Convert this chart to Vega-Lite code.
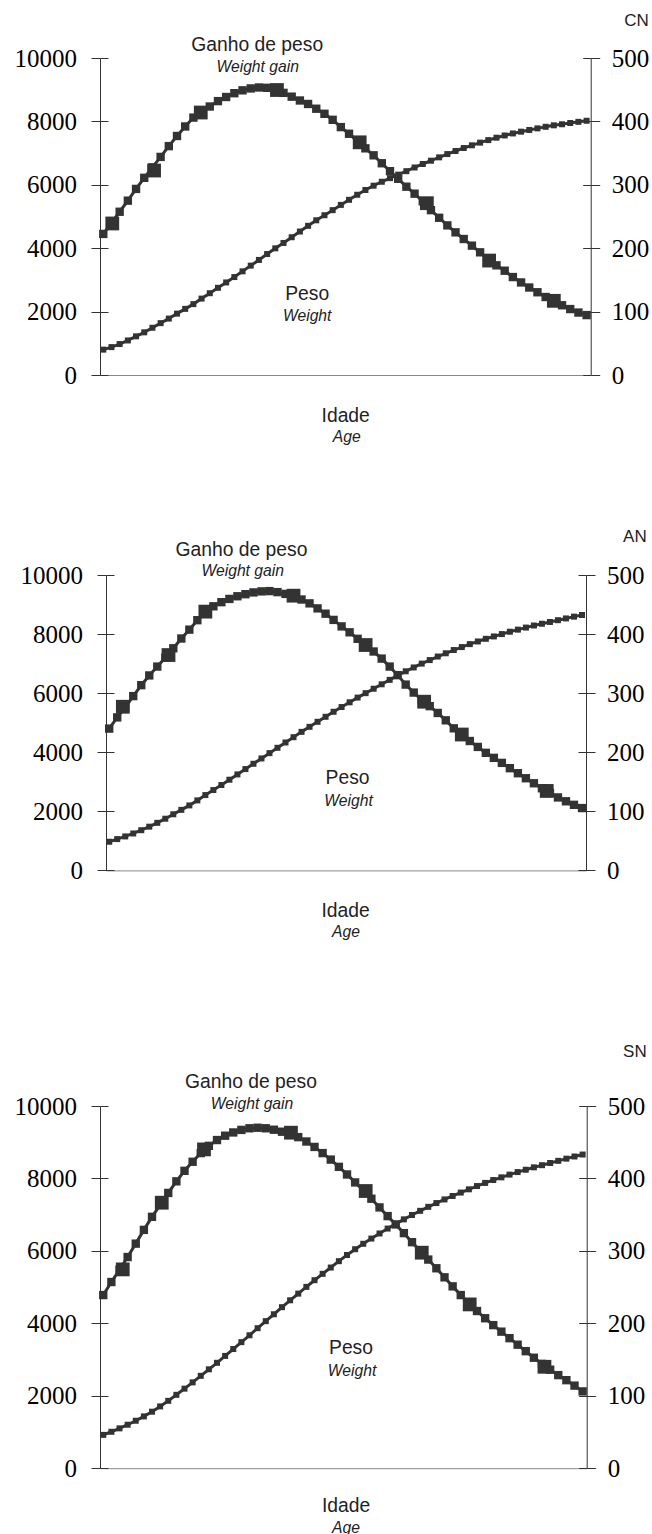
{
 "$schema": "https://vega.github.io/schema/vega-lite/v6.json",
 "padding": 0,
 "autosize": {"type": "pad"},
 "spacing": 0,
 "bounds": "full",
 "datasets": {
  "cn": [{"k":0,"g":4450,"w":40},{"k":1,"g":4800,"w":44},{"k":2,"g":5150,"w":48.8},{"k":3,"g":5500,"w":54.5},{"k":4,"g":5870,"w":61},{"k":5,"g":6220,"w":67.3},{"k":6,"g":6550,"w":74.5},{"k":7,"g":6880,"w":81.8},{"k":8,"g":7220,"w":89},{"k":9,"g":7540,"w":96.8},{"k":10,"g":7840,"w":104.3},{"k":11,"g":8120,"w":111.8},{"k":12,"g":8310,"w":120.5},{"k":13,"g":8470,"w":129},{"k":14,"g":8640,"w":137.5},{"k":15,"g":8770,"w":146},{"k":16,"g":8890,"w":154.5},{"k":17,"g":8980,"w":163.5},{"k":18,"g":9040,"w":172.5},{"k":19,"g":9070,"w":181.5},{"k":20,"g":9060,"w":190.8},{"k":21,"g":9000,"w":199.8},{"k":22,"g":8900,"w":208.3},{"k":23,"g":8780,"w":217.3},{"k":24,"g":8660,"w":226.3},{"k":25,"g":8550,"w":235.3},{"k":26,"g":8400,"w":244},{"k":27,"g":8240,"w":252},{"k":28,"g":8050,"w":260},{"k":29,"g":7820,"w":268.3},{"k":30,"g":7610,"w":276.3},{"k":31,"g":7380,"w":284.3},{"k":32,"g":7150,"w":291.8},{"k":33,"g":6930,"w":298.6},{"k":34,"g":6680,"w":304.8},{"k":35,"g":6430,"w":310.5},{"k":36,"g":6190,"w":316},{"k":37,"g":5940,"w":321.5},{"k":38,"g":5720,"w":327.3},{"k":39,"g":5480,"w":332.8},{"k":40,"g":5200,"w":338},{"k":41,"g":4960,"w":343.3},{"k":42,"g":4720,"w":348.5},{"k":43,"g":4500,"w":353.3},{"k":44,"g":4290,"w":358},{"k":45,"g":4080,"w":362.3},{"k":46,"g":3870,"w":366.5},{"k":47,"g":3650,"w":370.5},{"k":48,"g":3460,"w":374.3},{"k":49,"g":3290,"w":377.8},{"k":50,"g":3090,"w":381},{"k":51,"g":2920,"w":383.8},{"k":52,"g":2760,"w":386.5},{"k":53,"g":2610,"w":389},{"k":54,"g":2460,"w":391.5},{"k":55,"g":2330,"w":393.8},{"k":56,"g":2200,"w":395.5},{"k":57,"g":2080,"w":397.5},{"k":58,"g":1970,"w":399.3},{"k":59,"g":1890,"w":401}],
  "cn_big": [{"k":1.1,"g":4780},{"k":6.2,"g":6450},{"k":11.9,"g":8280},{"k":21.2,"g":8990},{"k":31.3,"g":7340},{"k":39.5,"g":5420},{"k":47.1,"g":3610},{"k":55,"g":2340}],
  "cn_txt": [{"k":66.58,"v":11019,"t":"CN","s":"t"},{"k":18.79,"v":10230,"t":"Ganho de peso","s":"n"},{"k":18.85,"v":9568,"t":"Weight gain","s":"i"},{"k":24.89,"v":2366,"t":"Peso","s":"n"},{"k":24.89,"v":1691,"t":"Weight","s":"i"},{"k":29.59,"v":-1495,"t":"Idade","s":"n"},{"k":29.71,"v":-2104,"t":"Age","s":"i"}],
  "cn_band": [{"k":-12.40,"v":11807.6,"v2":-3334.4}],
  "an": [{"k":0,"g":4800,"w":48.5},{"k":1,"g":5180,"w":53},{"k":2,"g":5520,"w":57.5},{"k":3,"g":5900,"w":62.5},{"k":4,"g":6270,"w":68},{"k":5,"g":6600,"w":74},{"k":6,"g":6900,"w":80.5},{"k":7,"g":7200,"w":87.5},{"k":8,"g":7520,"w":95},{"k":9,"g":7850,"w":102.5},{"k":10,"g":8150,"w":110},{"k":11,"g":8470,"w":118.5},{"k":12,"g":8750,"w":127.5},{"k":13,"g":8940,"w":136},{"k":14,"g":9080,"w":144.5},{"k":15,"g":9190,"w":153.5},{"k":16,"g":9280,"w":162.5},{"k":17,"g":9350,"w":171.5},{"k":18,"g":9410,"w":180.5},{"k":19,"g":9445,"w":189.5},{"k":20,"g":9455,"w":198.5},{"k":21,"g":9420,"w":207.5},{"k":22,"g":9360,"w":216.5},{"k":23,"g":9280,"w":225.5},{"k":24,"g":9170,"w":234.5},{"k":25,"g":9040,"w":243},{"k":26,"g":8870,"w":251.5},{"k":27,"g":8690,"w":260},{"k":28,"g":8480,"w":268.5},{"k":29,"g":8260,"w":276.5},{"k":30,"g":8060,"w":284.5},{"k":31,"g":7840,"w":292.5},{"k":32,"g":7630,"w":300},{"k":33,"g":7410,"w":307.5},{"k":34,"g":7170,"w":315},{"k":35,"g":6900,"w":322.5},{"k":36,"g":6610,"w":330},{"k":37,"g":6290,"w":337},{"k":38,"g":6020,"w":343.5},{"k":39,"g":5780,"w":350},{"k":40,"g":5560,"w":356},{"k":41,"g":5330,"w":362},{"k":42,"g":5080,"w":367.5},{"k":43,"g":4810,"w":373},{"k":44,"g":4580,"w":378},{"k":45,"g":4380,"w":383},{"k":46,"g":4180,"w":387.5},{"k":47,"g":3980,"w":392},{"k":48,"g":3810,"w":396},{"k":49,"g":3640,"w":400},{"k":50,"g":3460,"w":404},{"k":51,"g":3290,"w":407.5},{"k":52,"g":3120,"w":411},{"k":53,"g":2950,"w":414.5},{"k":54,"g":2780,"w":417.5},{"k":55,"g":2620,"w":420.5},{"k":56,"g":2470,"w":423.5},{"k":57,"g":2340,"w":426.5},{"k":58,"g":2220,"w":429.5},{"k":59,"g":2110,"w":432.3}],
  "an_big": [{"k":1.7,"g":5540},{"k":7.4,"g":7290},{"k":12,"g":8760},{"k":23,"g":9300},{"k":32,"g":7630},{"k":39.3,"g":5711},{"k":44,"g":4600},{"k":54.6,"g":2690}],
  "an_txt": [{"k":67.08,"v":11104,"t":"AN","s":"t"},{"k":16.51,"v":10643,"t":"Ganho de peso","s":"n"},{"k":16.66,"v":9966,"t":"Weight gain","s":"i"},{"k":29.74,"v":2911,"t":"Peso","s":"n"},{"k":29.86,"v":2190,"t":"Weight","s":"i"},{"k":29.49,"v":-1567,"t":"Idade","s":"n"},{"k":29.55,"v":-2244,"t":"Age","s":"i"}],
  "an_band": [{"k":-13.50,"v":13158.4,"v2":-4106.3}],
  "sn": [{"k":0,"g":4780,"w":46},{"k":1,"g":5140,"w":50.3},{"k":2,"g":5480,"w":55},{"k":3,"g":5830,"w":60},{"k":4,"g":6200,"w":65.5},{"k":5,"g":6580,"w":71.5},{"k":6,"g":6940,"w":78},{"k":7,"g":7270,"w":85.3},{"k":8,"g":7600,"w":93},{"k":9,"g":7920,"w":101.3},{"k":10,"g":8210,"w":109.8},{"k":11,"g":8460,"w":118.5},{"k":12,"g":8700,"w":127.5},{"k":13,"g":8900,"w":136.5},{"k":14,"g":9060,"w":145.5},{"k":15,"g":9180,"w":155},{"k":16,"g":9270,"w":164.5},{"k":17,"g":9340,"w":174},{"k":18,"g":9385,"w":183.5},{"k":19,"g":9400,"w":193.3},{"k":20,"g":9385,"w":203},{"k":21,"g":9345,"w":212.5},{"k":22,"g":9290,"w":222.3},{"k":23,"g":9230,"w":231.8},{"k":24,"g":9140,"w":241},{"k":25,"g":9020,"w":250.3},{"k":26,"g":8870,"w":259.5},{"k":27,"g":8700,"w":268.3},{"k":28,"g":8520,"w":277},{"k":29,"g":8320,"w":285.8},{"k":30,"g":8110,"w":294.3},{"k":31,"g":7890,"w":302.3},{"k":32,"g":7670,"w":309.8},{"k":33,"g":7440,"w":317},{"k":34,"g":7200,"w":324},{"k":35,"g":6960,"w":330.8},{"k":36,"g":6730,"w":337.3},{"k":37,"g":6490,"w":343.5},{"k":38,"g":6240,"w":349.5},{"k":39,"g":6000,"w":355.3},{"k":40,"g":5760,"w":360.8},{"k":41,"g":5520,"w":366},{"k":42,"g":5270,"w":371},{"k":43,"g":5020,"w":375.8},{"k":44,"g":4780,"w":380.5},{"k":45,"g":4550,"w":385},{"k":46,"g":4340,"w":389.5},{"k":47,"g":4140,"w":393.8},{"k":48,"g":3950,"w":397.8},{"k":49,"g":3770,"w":401.5},{"k":50,"g":3590,"w":405.3},{"k":51,"g":3410,"w":408.8},{"k":52,"g":3230,"w":412},{"k":53,"g":3050,"w":415.3},{"k":54,"g":2880,"w":418.3},{"k":55,"g":2720,"w":421.3},{"k":56,"g":2570,"w":424.3},{"k":57,"g":2430,"w":427.3},{"k":58,"g":2280,"w":430.3},{"k":59,"g":2120,"w":433}],
  "sn_big": [{"k":2.4,"g":5489},{"k":7.2,"g":7330},{"k":12.4,"g":8802},{"k":23.1,"g":9263},{"k":32.3,"g":7653},{"k":39.2,"g":5950},{"k":45.1,"g":4522},{"k":54.3,"g":2800}],
  "sn_txt": [{"k":66.89,"v":11361,"t":"SN","s":"t"},{"k":18.18,"v":10505,"t":"Ganho de peso","s":"n"},{"k":18.31,"v":9925,"t":"Weight gain","s":"i"},{"k":30.49,"v":3142,"t":"Peso","s":"n"},{"k":30.62,"v":2546,"t":"Weight","s":"i"},{"k":29.88,"v":-1209,"t":"Idade","s":"n"},{"k":29.88,"v":-1800,"t":"Age","s":"i"}],
  "sn_band": [{"k":-12.58,"v":13128.1,"v2":-1891.2}]
 },
 "vconcat": [
  {"spacing": 0, "bounds": "full", "hconcat": [
  {"width": 1, "height": 1, "data": {"values": []}, "mark": {"type": "point", "opacity": 0}},
  {
   "width": 490.7, "height": 317,
   "resolve": {"scale": {"y": "independent"}},
   "layer": [
    {"layer": [
     {"data": {"name": "cn"}, "mark": {"type": "line", "color": "#333", "strokeWidth": 3},
      "encoding": {"x": {"field": "k", "type": "quantitative", "scale": {"domain": [-0.4, 59.5], "nice": false, "zero": false}, "axis": {"title": null}},
                   "y": {"field": "g", "type": "quantitative", "scale": {"domain": [0, 10000], "nice": false, "zero": false}, "axis": {"title": null, "orient": "left", "format": "d", "values": [0, 2000, 4000, 6000, 8000, 10000]}}}},
     {"data": {"name": "cn"}, "mark": {"type": "square", "color": "#333", "size": 70, "opacity": 1},
      "encoding": {"x": {"field": "k", "type": "quantitative", "scale": {"domain": [-0.4, 59.5], "nice": false, "zero": false}, "axis": {"title": null}},
                   "y": {"field": "g", "type": "quantitative", "scale": {"domain": [0, 10000], "nice": false, "zero": false}, "axis": {"title": null, "orient": "left", "format": "d", "values": [0, 2000, 4000, 6000, 8000, 10000]}}}},
     {"data": {"name": "cn_big"}, "mark": {"type": "square", "color": "#333", "size": 190, "opacity": 1},
      "encoding": {"x": {"field": "k", "type": "quantitative", "scale": {"domain": [-0.4, 59.5], "nice": false, "zero": false}, "axis": {"title": null}},
                   "y": {"field": "g", "type": "quantitative", "scale": {"domain": [0, 10000], "nice": false, "zero": false}, "axis": {"title": null, "orient": "left", "format": "d", "values": [0, 2000, 4000, 6000, 8000, 10000]}}}},
     {"data": {"name": "cn_txt"}, "transform": [{"filter": "datum.s == 'n'"}],
      "mark": {"type": "text", "font": "Liberation Sans", "fontSize": 19.3, "align": "center", "baseline": "alphabetic", "color": "#222"},
      "encoding": {"x": {"field": "k", "type": "quantitative", "scale": {"domain": [-0.4, 59.5], "nice": false, "zero": false}, "axis": {"title": null}},
                   "y": {"field": "v", "type": "quantitative", "scale": {"domain": [0, 10000], "nice": false, "zero": false}, "axis": {"title": null, "orient": "left", "format": "d", "values": [0, 2000, 4000, 6000, 8000, 10000]}},
                   "text": {"field": "t"}}},
     {"data": {"name": "cn_txt"}, "transform": [{"filter": "datum.s == 'i'"}],
      "mark": {"type": "text", "font": "Liberation Sans", "fontSize": 15.7, "fontStyle": "italic", "align": "center", "baseline": "alphabetic", "color": "#222"},
      "encoding": {"x": {"field": "k", "type": "quantitative", "scale": {"domain": [-0.4, 59.5], "nice": false, "zero": false}, "axis": {"title": null}},
                   "y": {"field": "v", "type": "quantitative", "scale": {"domain": [0, 10000], "nice": false, "zero": false}, "axis": {"title": null, "orient": "left", "format": "d", "values": [0, 2000, 4000, 6000, 8000, 10000]}},
                   "text": {"field": "t"}}},
     {"data": {"name": "cn_txt"}, "transform": [{"filter": "datum.s == 't'"}],
      "mark": {"type": "text", "font": "Liberation Sans", "fontSize": 17, "align": "right", "baseline": "alphabetic", "color": "#222"},
      "encoding": {"x": {"field": "k", "type": "quantitative", "scale": {"domain": [-0.4, 59.5], "nice": false, "zero": false}, "axis": {"title": null}},
                   "y": {"field": "v", "type": "quantitative", "scale": {"domain": [0, 10000], "nice": false, "zero": false}, "axis": {"title": null, "orient": "left", "format": "d", "values": [0, 2000, 4000, 6000, 8000, 10000]}},
                   "text": {"field": "t"}}}
    ]},
    {"layer": [
     {"data": {"name": "cn"}, "mark": {"type": "line", "color": "#333", "strokeWidth": 3},
      "encoding": {"x": {"field": "k", "type": "quantitative", "scale": {"domain": [-0.4, 59.5], "nice": false, "zero": false}, "axis": {"title": null}},
                   "y": {"field": "w", "type": "quantitative", "scale": {"domain": [0, 500], "nice": false, "zero": false}, "axis": {"title": null, "orient": "right", "values": [0, 100, 200, 300, 400, 500]}}}},
     {"data": {"name": "cn"}, "mark": {"type": "square", "color": "#333", "size": 36, "opacity": 1},
      "encoding": {"x": {"field": "k", "type": "quantitative", "scale": {"domain": [-0.4, 59.5], "nice": false, "zero": false}, "axis": {"title": null}},
                   "y": {"field": "w", "type": "quantitative", "scale": {"domain": [0, 500], "nice": false, "zero": false}, "axis": {"title": null, "orient": "right", "values": [0, 100, 200, 300, 400, 500]}}}}
    ]},
    {"data": {"name": "cn_band"}, "mark": {"type": "rule", "opacity": 0, "strokeWidth": 0},
     "encoding": {"x": {"field": "k", "type": "quantitative", "scale": {"domain": [-0.4, 59.5], "nice": false, "zero": false}, "axis": {"title": null}},
                  "y": {"field": "v", "type": "quantitative", "scale": {"domain": [0, 10000], "nice": false, "zero": false}, "axis": {"title": null, "orient": "left", "labels": false, "domain": false, "tickSize": -8, "values": [0, 2000, 4000, 6000, 8000, 10000]}},
                  "y2": {"field": "v2"}}},
    {"data": {"name": "cn_band"}, "mark": {"type": "rule", "opacity": 0, "strokeWidth": 0},
     "encoding": {"x": {"field": "k", "type": "quantitative", "scale": {"domain": [-0.4, 59.5], "nice": false, "zero": false}, "axis": {"title": null}},
                  "y": {"field": "v", "type": "quantitative", "scale": {"domain": [0, 10000], "nice": false, "zero": false}, "axis": {"title": null, "orient": "right", "labels": false, "domain": false, "tickSize": -8, "values": [0, 2000, 4000, 6000, 8000, 10000]}},
                  "y2": {"field": "v2"}}}
   ]
  }]},
  {"spacing": 0, "bounds": "full", "hconcat": [
  {"width": 1, "height": 1, "data": {"values": []}, "mark": {"type": "point", "opacity": 0}},
  {
   "width": 480, "height": 295.4,
   "resolve": {"scale": {"y": "independent"}},
   "layer": [
    {"layer": [
     {"data": {"name": "an"}, "mark": {"type": "line", "color": "#333", "strokeWidth": 3},
      "encoding": {"x": {"field": "k", "type": "quantitative", "scale": {"domain": [-0.4, 59.5], "nice": false, "zero": false}, "axis": {"title": null}},
                   "y": {"field": "g", "type": "quantitative", "scale": {"domain": [0, 10000], "nice": false, "zero": false}, "axis": {"title": null, "orient": "left", "format": "d", "values": [0, 2000, 4000, 6000, 8000, 10000]}}}},
     {"data": {"name": "an"}, "mark": {"type": "square", "color": "#333", "size": 70, "opacity": 1},
      "encoding": {"x": {"field": "k", "type": "quantitative", "scale": {"domain": [-0.4, 59.5], "nice": false, "zero": false}, "axis": {"title": null}},
                   "y": {"field": "g", "type": "quantitative", "scale": {"domain": [0, 10000], "nice": false, "zero": false}, "axis": {"title": null, "orient": "left", "format": "d", "values": [0, 2000, 4000, 6000, 8000, 10000]}}}},
     {"data": {"name": "an_big"}, "mark": {"type": "square", "color": "#333", "size": 190, "opacity": 1},
      "encoding": {"x": {"field": "k", "type": "quantitative", "scale": {"domain": [-0.4, 59.5], "nice": false, "zero": false}, "axis": {"title": null}},
                   "y": {"field": "g", "type": "quantitative", "scale": {"domain": [0, 10000], "nice": false, "zero": false}, "axis": {"title": null, "orient": "left", "format": "d", "values": [0, 2000, 4000, 6000, 8000, 10000]}}}},
     {"data": {"name": "an_txt"}, "transform": [{"filter": "datum.s == 'n'"}],
      "mark": {"type": "text", "font": "Liberation Sans", "fontSize": 19.3, "align": "center", "baseline": "alphabetic", "color": "#222"},
      "encoding": {"x": {"field": "k", "type": "quantitative", "scale": {"domain": [-0.4, 59.5], "nice": false, "zero": false}, "axis": {"title": null}},
                   "y": {"field": "v", "type": "quantitative", "scale": {"domain": [0, 10000], "nice": false, "zero": false}, "axis": {"title": null, "orient": "left", "format": "d", "values": [0, 2000, 4000, 6000, 8000, 10000]}},
                   "text": {"field": "t"}}},
     {"data": {"name": "an_txt"}, "transform": [{"filter": "datum.s == 'i'"}],
      "mark": {"type": "text", "font": "Liberation Sans", "fontSize": 15.7, "fontStyle": "italic", "align": "center", "baseline": "alphabetic", "color": "#222"},
      "encoding": {"x": {"field": "k", "type": "quantitative", "scale": {"domain": [-0.4, 59.5], "nice": false, "zero": false}, "axis": {"title": null}},
                   "y": {"field": "v", "type": "quantitative", "scale": {"domain": [0, 10000], "nice": false, "zero": false}, "axis": {"title": null, "orient": "left", "format": "d", "values": [0, 2000, 4000, 6000, 8000, 10000]}},
                   "text": {"field": "t"}}},
     {"data": {"name": "an_txt"}, "transform": [{"filter": "datum.s == 't'"}],
      "mark": {"type": "text", "font": "Liberation Sans", "fontSize": 17, "align": "right", "baseline": "alphabetic", "color": "#222"},
      "encoding": {"x": {"field": "k", "type": "quantitative", "scale": {"domain": [-0.4, 59.5], "nice": false, "zero": false}, "axis": {"title": null}},
                   "y": {"field": "v", "type": "quantitative", "scale": {"domain": [0, 10000], "nice": false, "zero": false}, "axis": {"title": null, "orient": "left", "format": "d", "values": [0, 2000, 4000, 6000, 8000, 10000]}},
                   "text": {"field": "t"}}}
    ]},
    {"layer": [
     {"data": {"name": "an"}, "mark": {"type": "line", "color": "#333", "strokeWidth": 3},
      "encoding": {"x": {"field": "k", "type": "quantitative", "scale": {"domain": [-0.4, 59.5], "nice": false, "zero": false}, "axis": {"title": null}},
                   "y": {"field": "w", "type": "quantitative", "scale": {"domain": [0, 500], "nice": false, "zero": false}, "axis": {"title": null, "orient": "right", "values": [0, 100, 200, 300, 400, 500]}}}},
     {"data": {"name": "an"}, "mark": {"type": "square", "color": "#333", "size": 36, "opacity": 1},
      "encoding": {"x": {"field": "k", "type": "quantitative", "scale": {"domain": [-0.4, 59.5], "nice": false, "zero": false}, "axis": {"title": null}},
                   "y": {"field": "w", "type": "quantitative", "scale": {"domain": [0, 500], "nice": false, "zero": false}, "axis": {"title": null, "orient": "right", "values": [0, 100, 200, 300, 400, 500]}}}}
    ]},
    {"data": {"name": "an_band"}, "mark": {"type": "rule", "opacity": 0, "strokeWidth": 0},
     "encoding": {"x": {"field": "k", "type": "quantitative", "scale": {"domain": [-0.4, 59.5], "nice": false, "zero": false}, "axis": {"title": null}},
                  "y": {"field": "v", "type": "quantitative", "scale": {"domain": [0, 10000], "nice": false, "zero": false}, "axis": {"title": null, "orient": "left", "labels": false, "domain": false, "tickSize": -8, "values": [0, 2000, 4000, 6000, 8000, 10000]}},
                  "y2": {"field": "v2"}}},
    {"data": {"name": "an_band"}, "mark": {"type": "rule", "opacity": 0, "strokeWidth": 0},
     "encoding": {"x": {"field": "k", "type": "quantitative", "scale": {"domain": [-0.4, 59.5], "nice": false, "zero": false}, "axis": {"title": null}},
                  "y": {"field": "v", "type": "quantitative", "scale": {"domain": [0, 10000], "nice": false, "zero": false}, "axis": {"title": null, "orient": "right", "labels": false, "domain": false, "tickSize": -8, "values": [0, 2000, 4000, 6000, 8000, 10000]}},
                  "y2": {"field": "v2"}}}
   ]
  }]},
  {"spacing": 0, "bounds": "full", "hconcat": [
  {"width": 1, "height": 1, "data": {"values": []}, "mark": {"type": "point", "opacity": 0}},
  {
   "width": 486.7, "height": 362.2,
   "resolve": {"scale": {"y": "independent"}},
   "layer": [
    {"layer": [
     {"data": {"name": "sn"}, "mark": {"type": "line", "color": "#333", "strokeWidth": 3},
      "encoding": {"x": {"field": "k", "type": "quantitative", "scale": {"domain": [-0.4, 59.5], "nice": false, "zero": false}, "axis": {"title": null}},
                   "y": {"field": "g", "type": "quantitative", "scale": {"domain": [0, 10000], "nice": false, "zero": false}, "axis": {"title": null, "orient": "left", "format": "d", "values": [0, 2000, 4000, 6000, 8000, 10000]}}}},
     {"data": {"name": "sn"}, "mark": {"type": "square", "color": "#333", "size": 70, "opacity": 1},
      "encoding": {"x": {"field": "k", "type": "quantitative", "scale": {"domain": [-0.4, 59.5], "nice": false, "zero": false}, "axis": {"title": null}},
                   "y": {"field": "g", "type": "quantitative", "scale": {"domain": [0, 10000], "nice": false, "zero": false}, "axis": {"title": null, "orient": "left", "format": "d", "values": [0, 2000, 4000, 6000, 8000, 10000]}}}},
     {"data": {"name": "sn_big"}, "mark": {"type": "square", "color": "#333", "size": 190, "opacity": 1},
      "encoding": {"x": {"field": "k", "type": "quantitative", "scale": {"domain": [-0.4, 59.5], "nice": false, "zero": false}, "axis": {"title": null}},
                   "y": {"field": "g", "type": "quantitative", "scale": {"domain": [0, 10000], "nice": false, "zero": false}, "axis": {"title": null, "orient": "left", "format": "d", "values": [0, 2000, 4000, 6000, 8000, 10000]}}}},
     {"data": {"name": "sn_txt"}, "transform": [{"filter": "datum.s == 'n'"}],
      "mark": {"type": "text", "font": "Liberation Sans", "fontSize": 19.3, "align": "center", "baseline": "alphabetic", "color": "#222"},
      "encoding": {"x": {"field": "k", "type": "quantitative", "scale": {"domain": [-0.4, 59.5], "nice": false, "zero": false}, "axis": {"title": null}},
                   "y": {"field": "v", "type": "quantitative", "scale": {"domain": [0, 10000], "nice": false, "zero": false}, "axis": {"title": null, "orient": "left", "format": "d", "values": [0, 2000, 4000, 6000, 8000, 10000]}},
                   "text": {"field": "t"}}},
     {"data": {"name": "sn_txt"}, "transform": [{"filter": "datum.s == 'i'"}],
      "mark": {"type": "text", "font": "Liberation Sans", "fontSize": 15.7, "fontStyle": "italic", "align": "center", "baseline": "alphabetic", "color": "#222"},
      "encoding": {"x": {"field": "k", "type": "quantitative", "scale": {"domain": [-0.4, 59.5], "nice": false, "zero": false}, "axis": {"title": null}},
                   "y": {"field": "v", "type": "quantitative", "scale": {"domain": [0, 10000], "nice": false, "zero": false}, "axis": {"title": null, "orient": "left", "format": "d", "values": [0, 2000, 4000, 6000, 8000, 10000]}},
                   "text": {"field": "t"}}},
     {"data": {"name": "sn_txt"}, "transform": [{"filter": "datum.s == 't'"}],
      "mark": {"type": "text", "font": "Liberation Sans", "fontSize": 17, "align": "right", "baseline": "alphabetic", "color": "#222"},
      "encoding": {"x": {"field": "k", "type": "quantitative", "scale": {"domain": [-0.4, 59.5], "nice": false, "zero": false}, "axis": {"title": null}},
                   "y": {"field": "v", "type": "quantitative", "scale": {"domain": [0, 10000], "nice": false, "zero": false}, "axis": {"title": null, "orient": "left", "format": "d", "values": [0, 2000, 4000, 6000, 8000, 10000]}},
                   "text": {"field": "t"}}}
    ]},
    {"layer": [
     {"data": {"name": "sn"}, "mark": {"type": "line", "color": "#333", "strokeWidth": 3},
      "encoding": {"x": {"field": "k", "type": "quantitative", "scale": {"domain": [-0.4, 59.5], "nice": false, "zero": false}, "axis": {"title": null}},
                   "y": {"field": "w", "type": "quantitative", "scale": {"domain": [0, 500], "nice": false, "zero": false}, "axis": {"title": null, "orient": "right", "values": [0, 100, 200, 300, 400, 500]}}}},
     {"data": {"name": "sn"}, "mark": {"type": "square", "color": "#333", "size": 36, "opacity": 1},
      "encoding": {"x": {"field": "k", "type": "quantitative", "scale": {"domain": [-0.4, 59.5], "nice": false, "zero": false}, "axis": {"title": null}},
                   "y": {"field": "w", "type": "quantitative", "scale": {"domain": [0, 500], "nice": false, "zero": false}, "axis": {"title": null, "orient": "right", "values": [0, 100, 200, 300, 400, 500]}}}}
    ]},
    {"data": {"name": "sn_band"}, "mark": {"type": "rule", "opacity": 0, "strokeWidth": 0},
     "encoding": {"x": {"field": "k", "type": "quantitative", "scale": {"domain": [-0.4, 59.5], "nice": false, "zero": false}, "axis": {"title": null}},
                  "y": {"field": "v", "type": "quantitative", "scale": {"domain": [0, 10000], "nice": false, "zero": false}, "axis": {"title": null, "orient": "left", "labels": false, "domain": false, "tickSize": -8, "values": [0, 2000, 4000, 6000, 8000, 10000]}},
                  "y2": {"field": "v2"}}},
    {"data": {"name": "sn_band"}, "mark": {"type": "rule", "opacity": 0, "strokeWidth": 0},
     "encoding": {"x": {"field": "k", "type": "quantitative", "scale": {"domain": [-0.4, 59.5], "nice": false, "zero": false}, "axis": {"title": null}},
                  "y": {"field": "v", "type": "quantitative", "scale": {"domain": [0, 10000], "nice": false, "zero": false}, "axis": {"title": null, "orient": "right", "labels": false, "domain": false, "tickSize": -8, "values": [0, 2000, 4000, 6000, 8000, 10000]}},
                  "y2": {"field": "v2"}}}
   ]
  }]}
 ],
 "config": {
  "view": {"stroke": null},
  "axis": {"grid": false, "labelFont": "Liberation Serif", "labelFontSize": 25, "labelColor": "#000", "tickColor": "#333", "domainColor": "#333", "tickSize": 9, "tickWidth": 1, "domainWidth": 1, "labelFlush": false, "labelOverlap": false},
  "axisLeft": {"labelPadding": 14.5},
  "axisRight": {"labelPadding": 11.5},
  "axisX": {"labels": false, "ticks": false, "domainColor": "#888"}
 }
}
